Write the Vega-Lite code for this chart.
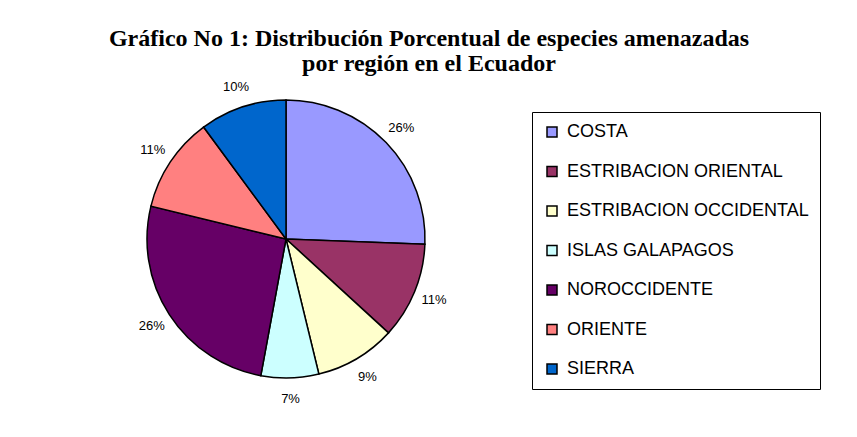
{
  "$schema": "https://vega.github.io/schema/vega-lite/v6.json",
  "width": 280,
  "height": 280,
  "autosize": {"type": "none"},
  "padding": {"left": 146, "top": 99, "right": 431, "bottom": 58},
  "background": "white",
  "title": {
    "text": ["Gráfico No 1: Distribución Porcentual de especies amenazadas", "por región en el Ecuador"],
    "font": "Liberation Serif",
    "fontWeight": "bold",
    "fontSize": 24,
    "lineHeight": 25,
    "color": "black",
    "anchor": "middle",
    "frame": "group",
    "dx": 143,
    "offset": 5
  },
  "data": {
    "values": [
      {"k": 1, "region": "COSTA", "value": 25.6, "label": "26%"},
      {"k": 2, "region": "ESTRIBACION ORIENTAL", "value": 11.2, "label": "11%"},
      {"k": 3, "region": "ESTRIBACION OCCIDENTAL", "value": 9.4, "label": "9%"},
      {"k": 4, "region": "ISLAS GALAPAGOS", "value": 6.7, "label": "7%"},
      {"k": 5, "region": "NOROCCIDENTE", "value": 25.9, "label": "26%"},
      {"k": 6, "region": "ORIENTE", "value": 11.1, "label": "11%"},
      {"k": 7, "region": "SIERRA", "value": 10.1, "label": "10%"}
    ]
  },
  "encoding": {
    "theta": {"field": "value", "type": "quantitative", "stack": true},
    "order": {"field": "k", "type": "quantitative"}
  },
  "layer": [
    {
      "mark": {"type": "arc", "outerRadius": 139, "stroke": "black", "strokeWidth": 1.5},
      "encoding": {
        "color": {
          "field": "region",
          "type": "nominal",
          "sort": ["COSTA", "ESTRIBACION ORIENTAL", "ESTRIBACION OCCIDENTAL", "ISLAS GALAPAGOS", "NOROCCIDENTE", "ORIENTE", "SIERRA"],
          "scale": {
            "domain": ["COSTA", "ESTRIBACION ORIENTAL", "ESTRIBACION OCCIDENTAL", "ISLAS GALAPAGOS", "NOROCCIDENTE", "ORIENTE", "SIERRA"],
            "range": ["#9999FF", "#993366", "#FFFFCC", "#CCFFFF", "#660066", "#FF8080", "#0066CC"]
          },
          "legend": {
            "title": null,
            "orient": "none",
            "legendX": 386,
            "legendY": 13,
            "symbolType": "square",
            "symbolSize": 100,
            "symbolStrokeColor": "black",
            "symbolStrokeWidth": 1.5,
            "labelFont": "Liberation Sans",
            "labelFontSize": 18,
            "labelColor": "black",
            "labelOffset": 6,
            "labelLimit": 400,
            "rowPadding": 21.5,
            "padding": 11,
            "strokeColor": "black",
            "fillColor": "white"
          }
        }
      }
    },
    {
      "mark": {"type": "text", "radius": 160, "font": "Liberation Sans", "fontSize": 13, "color": "black"},
      "encoding": {
        "text": {"field": "label", "type": "nominal"}
      }
    }
  ]
}
